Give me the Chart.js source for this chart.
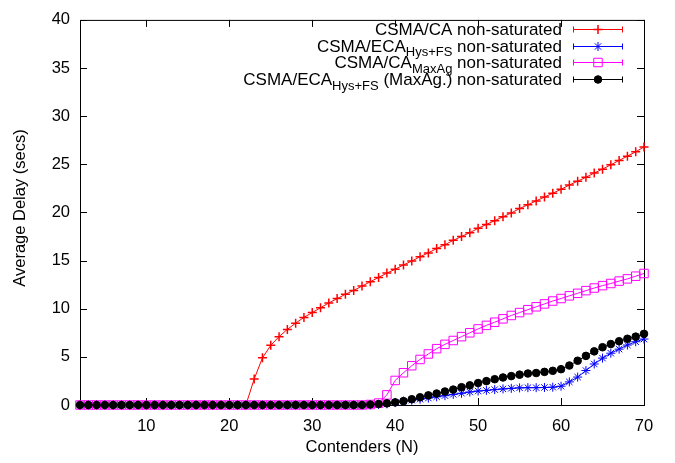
<!DOCTYPE html>
<html>
<head>
<meta charset="utf-8">
<script src="https://cdn.jsdelivr.net/npm/chart.js@4.4.1/dist/chart.umd.min.js"></script>
<style>
  html, body { margin: 0; padding: 0; background: #fff; }
</style>
</head>
<body>
<canvas id="delayChart" width="675" height="463"></canvas>
<script>
// data
const contenders = [2,3,4,5,6,7,8,9,10,11,12,13,14,15,16,17,18,19,20,21,22,23,24,25,26,27,28,29,30,31,32,33,34,35,36,
  37,38,39,40,41,42,43,44,45,46,47,48,49,50,51,52,53,54,55,56,57,58,59,60,61,62,63,64,65,66,67,68,69,70];

const csmaCA = [0,0,0,0,0,0,0,0,0,0,0,0,0,0,0,0,0,0,0,0,0,
  2.7,4.9,6.2,7.1,7.85,8.5,9.1,9.6,10.1,10.6,
  11.05,11.5,11.9,12.35,12.8,13.25,13.7,14.1,14.55,14.95,
  15.4,15.8,16.25,16.65,17.1,17.5,17.9,18.35,18.75,19.15,
  19.55,19.95,20.4,20.8,21.2,21.6,22.0,22.4,22.85,23.25,
  23.65,24.1,24.5,24.95,25.4,25.85,26.3,26.8];

const ecaHysFS = [0,0,0,0,0,0,0,0,0,0,0,0,0,0,0,0,0,0,0,0,0,0,0,0,0,0,0,0,0,0,0,0,0,0,0,0,
  0.05,0.12,0.25,0.4,0.5,0.6,0.72,0.85,0.97,1.1,
  1.22,1.35,1.45,1.52,1.6,1.67,1.73,1.78,1.8,1.8,
  1.82,1.85,1.95,2.4,2.9,3.58,4.26,4.87,5.38,5.8,
  6.23,6.57,6.85];

const caMaxAg = [0,0,0,0,0,0,0,0,0,0,0,0,0,0,0,0,0,0,0,0,0,0,0,0,0,0,0,0,0,0,0,0,0,0,0,
  0.05,0.2,1.05,2.55,3.35,4.08,4.73,5.3,5.85,6.3,
  6.7,7.1,7.5,7.9,8.27,8.6,8.95,9.3,9.6,9.9,
  10.2,10.5,10.8,11.06,11.34,11.6,11.88,12.15,12.4,12.62,
  12.87,13.1,13.38,13.66];

const ecaMaxAg = [0,0,0,0,0,0,0,0,0,0,0,0,0,0,0,0,0,0,0,0,0,0,0,0,0,0,0,0,0,0,0,0,0,0,0,
  0.05,0.1,0.17,0.27,0.4,0.6,0.8,1.0,1.19,1.4,
  1.6,1.85,2.04,2.28,2.48,2.68,2.86,3.0,3.15,3.27,
  3.32,3.44,3.55,3.72,4.1,4.6,5.1,5.57,6.0,6.33,
  6.62,6.88,7.1,7.39];

const xTicks = [10, 20, 30, 40, 50, 60, 70];
const yTicks = [0, 5, 10, 15, 20, 25, 30, 35, 40];

// legend text, pieces marked sub are subscripts
const legendRows = [
  [{t: 'CSMA/CA non-saturated'}],
  [{t: 'CSMA/ECA'}, {t: 'Hys+FS', sub: true}, {t: ' non-saturated'}],
  [{t: 'CSMA/CA'}, {t: 'MaxAg', sub: true}, {t: ' non-saturated'}],
  [{t: 'CSMA/ECA'}, {t: 'Hys+FS', sub: true}, {t: ' (MaxAg.) non-saturated'}]
];

const FONT = '"Liberation Sans", Arial, sans-serif';

function toPoints(vals) {
  return contenders.map((c, i) => ({x: c, y: vals[i]}));
}

const series = [
  {data: csmaCA, color: '#ff0000', style: 'cross', radius: 4.5, width: 1.5, order: 4, hollow: false},
  {data: ecaHysFS, color: '#0000ff', style: 'star', radius: 4.5, width: 1, order: 3, hollow: false},
  {data: caMaxAg, color: '#ff00ff', style: 'rect', radius: 6, width: 1, order: 2, hollow: true},
  {data: ecaMaxAg, color: '#000000', style: 'circle', radius: 3.8, width: 1, order: 1, hollow: false}
];

// border box, inward ticks, axis titles
const framePlugin = {
  id: 'frame',
  beforeDatasetsDraw(chart) {
    const {ctx, chartArea: a, scales} = chart;
    ctx.save();
    ctx.strokeStyle = '#000';
    ctx.lineWidth = 1;
    ctx.strokeRect(a.left + 0.5, a.top + 0.5, a.right - a.left, a.bottom - a.top);
    ctx.beginPath();
    xTicks.forEach(v => {
      const x = Math.round(scales.x.getPixelForValue(v)) + 0.5;
      ctx.moveTo(x, a.bottom); ctx.lineTo(x, a.bottom - 7);
      ctx.moveTo(x, a.top); ctx.lineTo(x, a.top + 7);
    });
    yTicks.forEach(v => {
      const y = Math.round(scales.y.getPixelForValue(v)) + 0.5;
      ctx.moveTo(a.left, y); ctx.lineTo(a.left + 7, y);
      ctx.moveTo(a.right, y); ctx.lineTo(a.right - 7, y);
    });
    ctx.stroke();

    ctx.fillStyle = '#000';
    ctx.font = '16.5px ' + FONT;
    ctx.textAlign = 'center';
    ctx.textBaseline = 'alphabetic';
    ctx.fillText('Contenders (N)', (a.left + a.right) / 2, 452);
    ctx.translate(25, 208);
    ctx.rotate(-Math.PI / 2);
    ctx.fillText('Average Delay (secs)', 0, 0);
    ctx.restore();
  },
  afterDraw(chart) {
    const ctx = chart.ctx;
    const mainFont = '17px ' + FONT;
    const subFont = '13px ' + FONT;
    const textRight = 562;
    const sx1 = 573, sx2 = 623;
    ctx.save();
    legendRows.forEach((row, i) => {
      const base = 35 + i * 16.7;
      let w = 0;
      row.forEach(p => { ctx.font = p.sub ? subFont : mainFont; w += ctx.measureText(p.t).width; });
      let x = textRight - w;
      ctx.fillStyle = '#000';
      ctx.textAlign = 'left';
      ctx.textBaseline = 'alphabetic';
      row.forEach(p => {
        ctx.font = p.sub ? subFont : mainFont;
        ctx.fillText(p.t, x, p.sub ? base + 4.5 : base);
        x += ctx.measureText(p.t).width;
      });

      const s = series[i];
      const y = Math.round(base - 6) + 0.5;
      ctx.strokeStyle = s.color;
      ctx.lineWidth = 1;
      ctx.beginPath();
      ctx.moveTo(sx1, y); ctx.lineTo(sx2, y);
      ctx.moveTo(sx1 + 0.5, y - 3); ctx.lineTo(sx1 + 0.5, y + 3);
      ctx.moveTo(sx2 - 0.5, y - 3); ctx.lineTo(sx2 - 0.5, y + 3);
      ctx.stroke();
      ctx.fillStyle = s.hollow ? 'rgba(0,0,0,0)' : s.color;
      ctx.lineWidth = s.width;
      Chart.helpers.drawPoint(ctx, {pointStyle: s.style, radius: s.radius, rotation: 0, borderWidth: s.width}, (sx1 + sx2) / 2, y);
    });
    ctx.restore();
  }
};

new Chart(document.getElementById('delayChart'), {
  type: 'line',
  data: {
    datasets: series.map(s => ({
      data: toPoints(s.data),
      borderColor: s.color,
      borderWidth: 1,
      pointStyle: s.style,
      pointRadius: s.radius,
      pointBorderColor: s.color,
      pointBorderWidth: s.width,
      pointBackgroundColor: s.hollow ? 'rgba(0,0,0,0)' : s.color,
      tension: 0,
      fill: false,
      clip: false,
      order: s.order
    }))
  },
  options: {
    responsive: false,
    animation: false,
    layout: {padding: {top: 13, right: 31, left: 0, bottom: 0}},
    plugins: {legend: {display: false}, tooltip: {enabled: false}},
    scales: {
      x: {
        type: 'linear',
        min: 2,
        max: 70,
        afterBuildTicks: s => { s.ticks = xTicks.map(v => ({value: v})); },
        afterFit: s => { s.height = 58; },
        grid: {display: false, drawTicks: false},
        border: {display: false},
        ticks: {color: '#000', font: {family: FONT, size: 16.5}, padding: 12, maxRotation: 0, autoSkip: false}
      },
      y: {
        min: 0,
        max: 40,
        afterBuildTicks: s => { s.ticks = yTicks.map(v => ({value: v})); },
        afterFit: s => { s.width = 80; },
        grid: {display: false, drawTicks: false},
        border: {display: false},
        ticks: {color: '#000', font: {family: FONT, size: 16.5}, padding: 10, autoSkip: false}
      }
    }
  },
  plugins: [framePlugin]
});
</script>
</body>
</html>
